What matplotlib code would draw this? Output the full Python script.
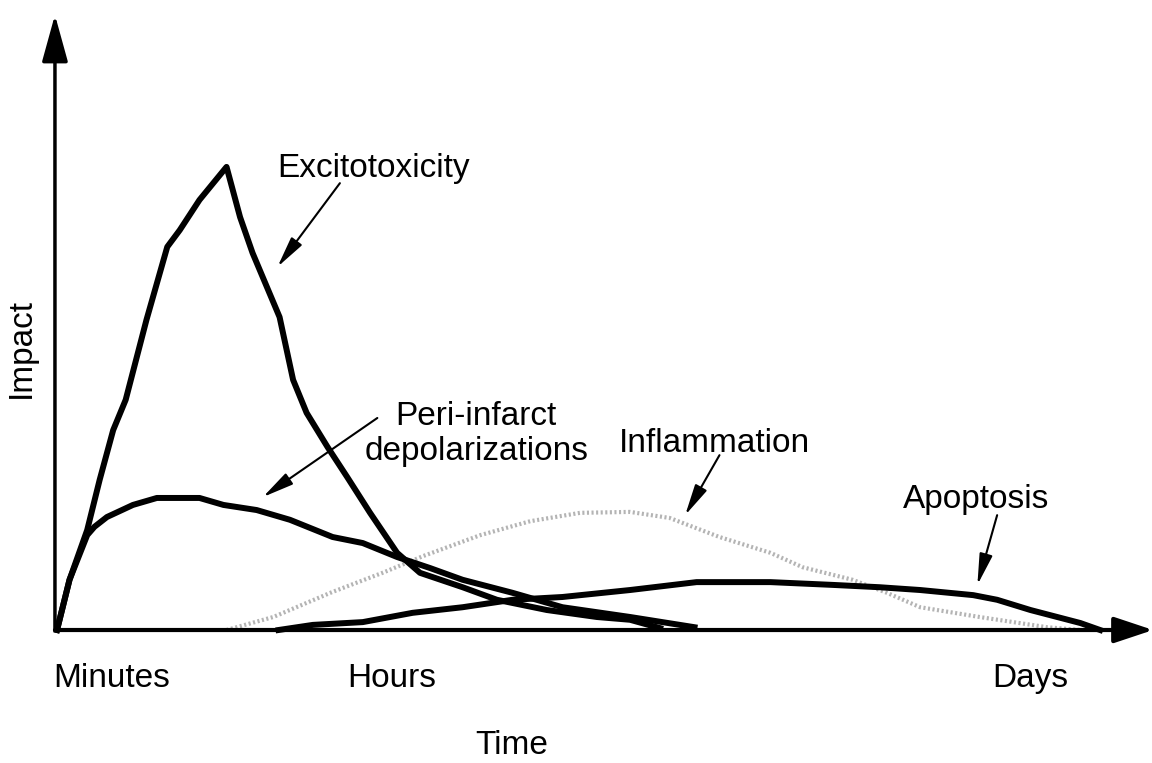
import matplotlib
matplotlib.use('Agg')
import matplotlib.pyplot as plt

plt.rcParams['font.family'] = ['Liberation Sans', 'DejaVu Sans']

# time runs 0 (minutes) .. 100 (days), impact peaks at 100
excito_x = [0.2, 1.4, 3.1, 4.3, 5.6, 6.8, 8.8, 10.8, 12.0, 13.9, 16.5, 17.8, 19.0, 21.6, 22.9,
            24.2, 26.2, 28.1, 30.3, 32.9, 35.1, 39.2, 42.5, 47.3, 52.1, 55.3, 58.2]
excito_y = [0, 10.8, 21.5, 32.3, 43.0, 49.5, 66.7, 82.4, 86.0, 92.5, 99.6, 88.8, 81.1, 67.3, 53.8,
            46.7, 39.4, 32.9, 25.2, 16.6, 12.3, 9.2, 6.5, 4.3, 2.8, 2.2, 0.4]

peri_x = [0.2, 1.4, 3.1, 3.8, 5.0, 7.5, 9.8, 13.9, 16.2, 19.4, 22.6, 26.7, 29.6, 32.9, 36.1,
          39.2, 44.0, 48.8, 55.3, 61.5]
peri_y = [0, 10.8, 20.4, 22.2, 24.3, 26.9, 28.4, 28.4, 26.9, 25.8, 23.7, 20.0, 18.7, 15.7, 13.3,
          10.8, 8.0, 4.9, 2.8, 0.6]

inflam_x = [16.5, 21.0, 26.7, 31.5, 35.4, 40.9, 45.7, 50.5, 55.3, 59.1, 63.9, 68.8, 71.9, 76.7,
            80.0, 83.2, 88.9, 95.4, 98.6]
inflam_y = [0, 2.8, 8.2, 12.3, 15.9, 20.4, 23.4, 25.2, 25.4, 24.1, 20.0, 16.6, 13.5, 10.8,
            8.0, 4.9, 2.8, 0.6, 0]

apop_x = [21.5, 24.8, 29.6, 34.4, 39.2, 44.0, 48.8, 55.3, 61.7, 68.8, 74.8, 79.3, 83.2, 88.3,
          90.6, 93.8, 98.6, 100.5]
apop_y = [0, 1.1, 1.7, 3.7, 4.9, 6.5, 7.1, 8.6, 10.3, 10.3, 9.7, 9.2, 8.6, 7.5,
          6.5, 4.3, 1.5, 0]

time_labels = ['Minutes', 'Hours', 'Days']
time_pos = [5.5, 32.4, 93.8]

fig = plt.figure(figsize=(11.52, 7.63), dpi=100)
ax = fig.add_axes([0.0477, 0.1743, 0.9569, 0.8105])
ax.set_xlim(0, 106)
ax.set_ylim(0, 133)
ax.axis('off')

# axes with arrow heads
ax.annotate('', xy=(0, 132.3), xytext=(0, 0),
            arrowprops=dict(arrowstyle='-|>,head_length=2.9,head_width=0.8', mutation_scale=10,
                            lw=2.5, color='black', shrinkA=0, shrinkB=0))
ax.annotate('', xy=(105.6, 0), xytext=(0, 0),
            arrowprops=dict(arrowstyle='-|>,head_length=2.4,head_width=0.8', mutation_scale=10,
                            lw=3, color='black', shrinkA=0, shrinkB=0))

# curves
ax.plot(inflam_x, inflam_y, color='#b4b4b4', lw=3, ls=(0, (0.5, 0.6)), clip_on=False, zorder=2)
ax.plot(apop_x, apop_y, color='black', lw=4.3, clip_on=False, zorder=3, solid_joinstyle='round')
ax.plot(peri_x, peri_y, color='black', lw=4.3, clip_on=False, zorder=3, solid_joinstyle='round')
ax.plot(excito_x, excito_y, color='black', lw=4.3, clip_on=False, zorder=3, solid_joinstyle='round')

fs = 24
arrow_kw = dict(arrowstyle='-|>,head_length=1.9,head_width=0.4', mutation_scale=10,
                lw=1.5, color='black', shrinkA=0, shrinkB=0)

ax.text(30.6, 97.4, 'Excitotoxicity', fontsize=fs, ha='center', va='baseline')
ax.annotate('', xy=(21.4, 78.1), xytext=(27.4, 96.1), arrowprops=arrow_kw)

ax.text(40.5, 44.1, 'Peri-infarct', fontsize=fs, ha='center', va='baseline')
ax.text(40.5, 36.6, 'depolarizations', fontsize=fs, ha='center', va='baseline')
ax.annotate('', xy=(20.0, 28.6), xytext=(31.0, 45.6), arrowprops=arrow_kw)

ax.text(63.4, 38.3, 'Inflammation', fontsize=fs, ha='center', va='baseline')
ax.annotate('', xy=(60.6, 24.7), xytext=(63.9, 37.6), arrowprops=arrow_kw)

ax.text(88.6, 26.2, 'Apoptosis', fontsize=fs, ha='center', va='baseline')
ax.annotate('', xy=(88.7, 9.7), xytext=(90.6, 24.7), arrowprops=arrow_kw)

# time marks and axis titles
for lab, xp in zip(time_labels, time_pos):
    ax.text(xp, -12.2, lab, fontsize=fs, ha='center', va='baseline')
ax.text(43.9, -26.6, 'Time', fontsize=fs, ha='center', va='baseline')
ax.text(-3.2, 60.6, 'Impact', fontsize=fs, ha='center', va='center', rotation=90)

plt.savefig('out.png', dpi=100)
